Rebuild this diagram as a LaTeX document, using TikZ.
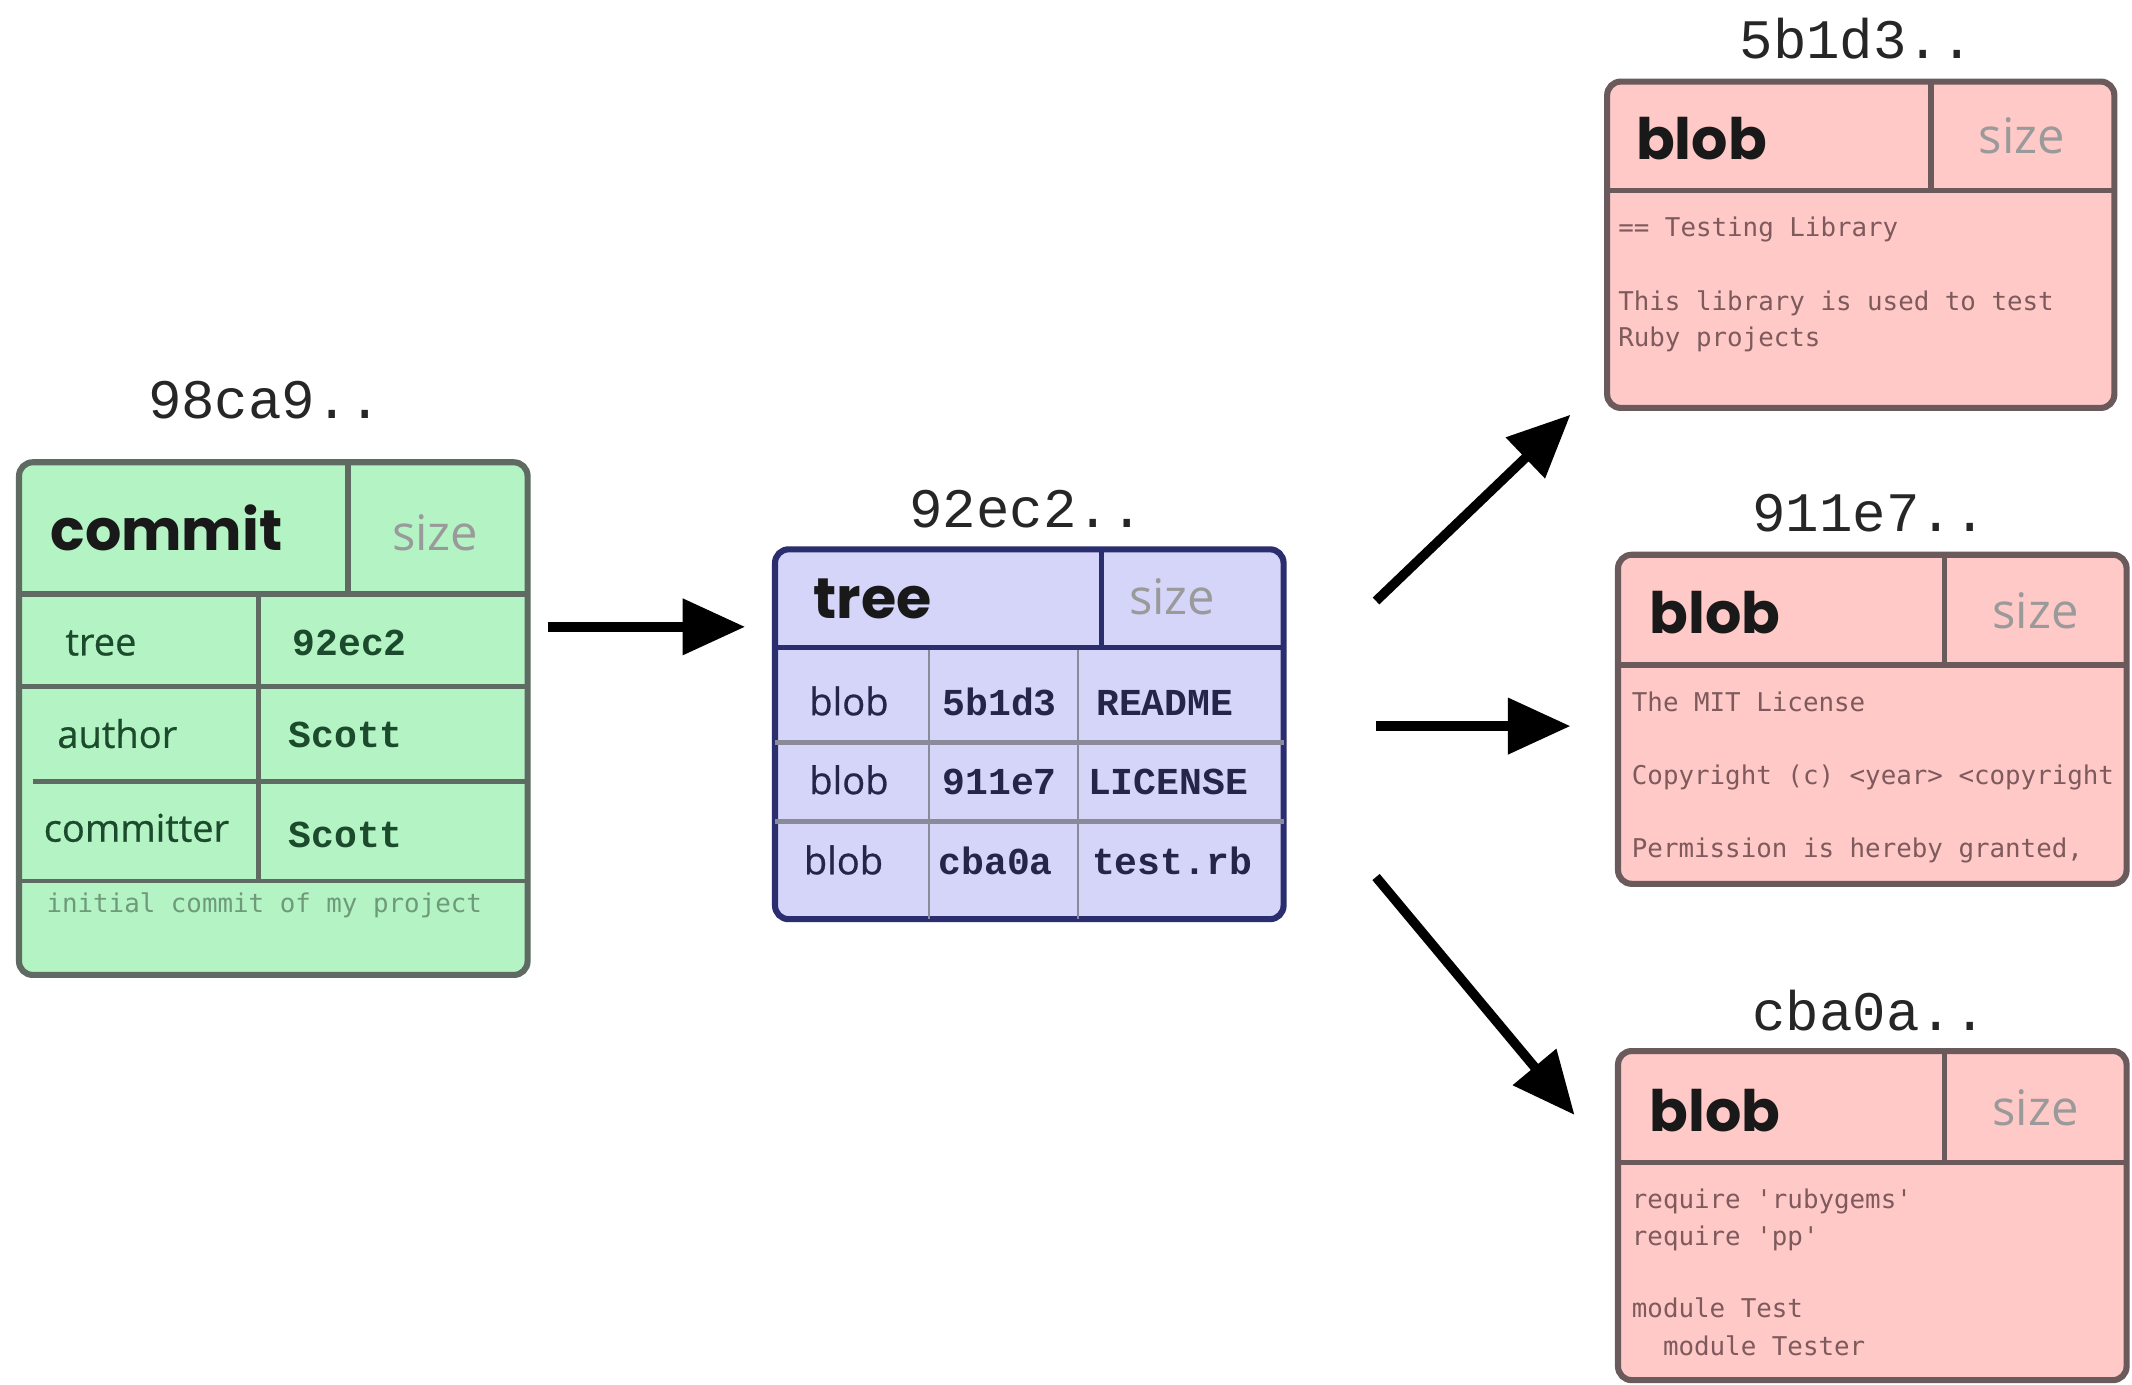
\documentclass[tikz,border=0pt]{standalone}
\usepackage{fontspec}
\usetikzlibrary{arrows.meta,calc}
\newfontfamily\hdrfont{Poppins}
\newfontfamily\uifont{Open Sans}
\newfontfamily\rowfont{Open Sans}[FakeBold=0.7]
\newfontfamily\cour{Liberation Mono}
\newfontfamily\codefont{DejaVu Sans Mono}
\definecolor{cfill}{HTML}{B4F4C4}
\definecolor{cline}{HTML}{5F6B62}
\definecolor{ctext}{HTML}{1C4A2C}
\definecolor{cmsg}{HTML}{6F9A7A}
\definecolor{tfill}{HTML}{D5D5FA}
\definecolor{tline}{HTML}{2B2E6E}
\definecolor{trow}{HTML}{8A8A9A}
\definecolor{ttext}{HTML}{25254A}
\definecolor{bfill}{HTML}{FFC9C7}
\definecolor{bline}{HTML}{6B5A5C}
\definecolor{btext}{HTML}{7E5A5C}
\definecolor{sizegray}{HTML}{9A9A9A}
\begin{document}
\begin{tikzpicture}[x=1pt,y=-1pt,
  box/.style={rectangle, rounded corners=10pt, line width=4.5pt, inner sep=0pt, outer sep=0pt, anchor=north west},
  hdr/.style={font=\hdrfont\bfseries\fontsize{42}{42}\selectfont, anchor=base west, inner sep=0pt, text=black!90},
  sz/.style={font=\uifont\fontsize{36}{36}\selectfont, text=sizegray, anchor=base, inner sep=0pt},
  lbl/.style={font=\cour\fontsize{41}{41}\selectfont, anchor=base, inner sep=0pt, text=black!85},
  rowlbl/.style={font=\rowfont\fontsize{28}{28}\selectfont, anchor=base west, inner sep=0pt},
  rowval/.style={font=\cour\bfseries\fontsize{28}{28}\selectfont, anchor=base west, inner sep=0pt},
  code/.style={font=\codefont\fontsize{19}{19}\selectfont, anchor=base west, inner sep=0pt},
  arr/.style={line width=7pt, black, -{Triangle[length=46pt,width=40pt]}}
]
\useasboundingbox[fill=white] (0,0) rectangle (1568,1018);

% ---------- commit box ----------
\node[box, draw=cline, fill=cfill, minimum width=374pt, minimum height=377pt] (commit) at (14,340) {};
\begin{scope}[cline]
\draw[line width=4pt] ($(commit.north west)+(0,97)$) -- ($(commit.north east)+(0,97)$);
\draw[line width=4pt] ($(commit.north west)+(242,0)$) -- ($(commit.north west)+(242,97)$);
\draw[line width=3.5pt] ($(commit.north west)+(176,97)$) -- ($(commit.north west)+(176,308)$);
\draw[line width=3.5pt] ($(commit.north west)+(0,165)$) -- ($(commit.north east)+(0,165)$);
\draw[line width=3.5pt] ($(commit.north west)+(10,235)$) -- ($(commit.north east)+(0,235)$);
\draw[line width=3.5pt] ($(commit.north west)+(0,308)$) -- ($(commit.north east)+(0,308)$);
\end{scope}
\node[lbl] (clabel) at ($(commit.north)+(-6,-32)$) {98ca9..};
\node[hdr] (ctitle) at ($(commit.north west)+(23,65)$) {commit};
\node[sz] (csize) at ($(commit.north west)+(306,65)$) {size};
\node[rowlbl, text=ctext] (ctree) at ($(commit.north west)+(34,142)$) {tree};
\node[rowval, text=ctext] (ctreev) at ($(commit.north west)+(201,142)$) {92ec2};
\node[rowlbl, text=ctext] (cauth) at ($(commit.north west)+(28,210)$) {author};
\node[rowval, text=ctext] (cauthv) at ($(commit.north west)+(198,210)$) {Scott};
\node[rowlbl, text=ctext] (ccomm) at ($(commit.north west)+(18,279)$) {committer};
\node[rowval, text=ctext] (ccommv) at ($(commit.north west)+(198,283)$) {Scott};
\node[code, text=cmsg] (cmsg) at ($(commit.north west)+(20,331)$) {initial commit of my project};

% ---------- tree box ----------
\node[box, draw=tline, fill=tfill, minimum width=374pt, minimum height=272pt] (tree) at (570,404) {};
\draw[trow, line width=1.5pt] ($(tree.north west)+(113,72)$) -- ($(tree.south west)+(113,0)$);
\draw[trow, line width=1.5pt] ($(tree.north west)+(223,72)$) -- ($(tree.south west)+(223,0)$);
\draw[trow, line width=3.5pt] ($(tree.north west)+(0,142)$) -- ($(tree.north east)+(0,142)$);
\draw[trow, line width=3.5pt] ($(tree.north west)+(0,200)$) -- ($(tree.north east)+(0,200)$);
\draw[tline, line width=4pt] ($(tree.north west)+(0,72)$) -- ($(tree.north east)+(0,72)$);
\draw[tline, line width=4pt] ($(tree.north west)+(240,0)$) -- ($(tree.north west)+(240,72)$);
\node[lbl] (tlabel) at ($(tree.north)+(-2,-16)$) {92ec2..};
\node[hdr] (ttitle) at ($(tree.north west)+(28,51)$) {tree};
\node[sz] (tsize) at ($(tree.north west)+(292,48)$) {size};
\node[rowlbl, text=ttext] (tr1a) at ($(tree.north west)+(25,122)$) {blob};
\node[rowval, text=ttext] (tr1b) at ($(tree.north west)+(123,122)$) {5b1d3};
\node[rowval, text=ttext] (tr1c) at ($(tree.north west)+(236,122)$) {README};
\node[rowlbl, text=ttext] (tr2a) at ($(tree.north west)+(25,180)$) {blob};
\node[rowval, text=ttext] (tr2b) at ($(tree.north west)+(123,180)$) {911e7};
\node[rowval, text=ttext] (tr2c) at ($(tree.north west)+(230,180)$) {LICENSE};
\node[rowlbl, text=ttext] (tr3a) at ($(tree.north west)+(21,239)$) {blob};
\node[rowval, text=ttext] (tr3b) at ($(tree.north west)+(120,239)$) {cba0a};
\node[rowval, text=ttext] (tr3c) at ($(tree.north west)+(233,239)$) {test.rb};

% ---------- blob 1 ----------
\node[box, draw=bline, fill=bfill, minimum width=373pt, minimum height=240pt] (blobA) at (1182,60) {};
\draw[bline, line width=4pt] ($(blobA.north west)+(0,80)$) -- ($(blobA.north east)+(0,80)$);
\draw[bline, line width=4pt] ($(blobA.north west)+(238,0)$) -- ($(blobA.north west)+(238,80)$);
\node[lbl] (alabel) at ($(blobA.north)+(-3,-17)$) {5b1d3..};
\node[hdr] (atitle) at ($(blobA.north west)+(21,57)$) {blob};
\node[sz] (asize) at ($(blobA.north west)+(305,53)$) {size};
\node[code, text=btext] (a1) at ($(blobA.north west)+(8,114)$) {== Testing Library};
\node[code, text=btext] (a2) at ($(blobA.north west)+(8,168)$) {This library is used to test};
\node[code, text=btext] (a3) at ($(blobA.north west)+(8,195)$) {Ruby projects};

% ---------- blob 2 ----------
\node[box, draw=bline, fill=bfill, minimum width=374pt, minimum height=242pt] (blobB) at (1190,408) {};
\draw[bline, line width=4pt] ($(blobB.north west)+(0,81)$) -- ($(blobB.north east)+(0,81)$);
\draw[bline, line width=4pt] ($(blobB.north west)+(240,0)$) -- ($(blobB.north west)+(240,81)$);
\node[lbl] (blabel) at ($(blobB.north)+(-2,-17)$) {911e7..};
\node[hdr] (btitle) at ($(blobB.north west)+(23,58)$) {blob};
\node[sz] (bsize) at ($(blobB.north west)+(307,54)$) {size};
\node[code, text=btext] (b1) at ($(blobB.north west)+(10,115)$) {The MIT License};
\node[code, text=btext] (b2) at ($(blobB.north west)+(10,169)$) {Copyright (c) <year> <copyright};
\node[code, text=btext] (b3) at ($(blobB.north west)+(10,223)$) {Permission is hereby granted,};

% ---------- blob 3 ----------
\node[box, draw=bline, fill=bfill, minimum width=374pt, minimum height=242pt] (blobC) at (1190,773) {};
\draw[bline, line width=4pt] ($(blobC.north west)+(0,82)$) -- ($(blobC.north east)+(0,82)$);
\draw[bline, line width=4pt] ($(blobC.north west)+(240,0)$) -- ($(blobC.north west)+(240,82)$);
\node[lbl] (clabel3) at ($(blobC.north)+(-2,-15)$) {cba0a..};
\node[hdr] (ctitle3) at ($(blobC.north west)+(23,59)$) {blob};
\node[sz] (csize3) at ($(blobC.north west)+(307,55)$) {size};
\node[code, text=btext] (c1) at ($(blobC.north west)+(10,116)$) {require 'rubygems'};
\node[code, text=btext] (c2) at ($(blobC.north west)+(10,143)$) {require 'pp'};
\node[code, text=btext] (c3) at ($(blobC.north west)+(10,196)$) {module Test};
\node[code, text=btext] (c4) at ($(blobC.north west)+(10,224)$) {\ \ module Tester};

% ---------- arrows ----------
\coordinate (s1) at ($(commit.north east)+(15,121)$);
\coordinate (e1) at ($(tree.north west)+(-22,57)$);
\draw[arr] (s1) -- (e1);
\coordinate (s2) at ($(tree.north east)+(68,38)$);
\coordinate (e2) at ($(blobA.south west)+(-27,5)$);
\draw[arr] (s2) -- (e2);
\coordinate (s3) at ($(tree.north east)+(68,130)$);
\coordinate (e3) at ($(blobB.north west)+(-35,126)$);
\draw[arr] (s3) -- (e3);
\coordinate (s4) at ($(tree.north east)+(68,241)$);
\coordinate (e4) at ($(blobC.north west)+(-32,47)$);
\draw[arr] (s4) -- (e4);
\end{tikzpicture}
\end{document}
